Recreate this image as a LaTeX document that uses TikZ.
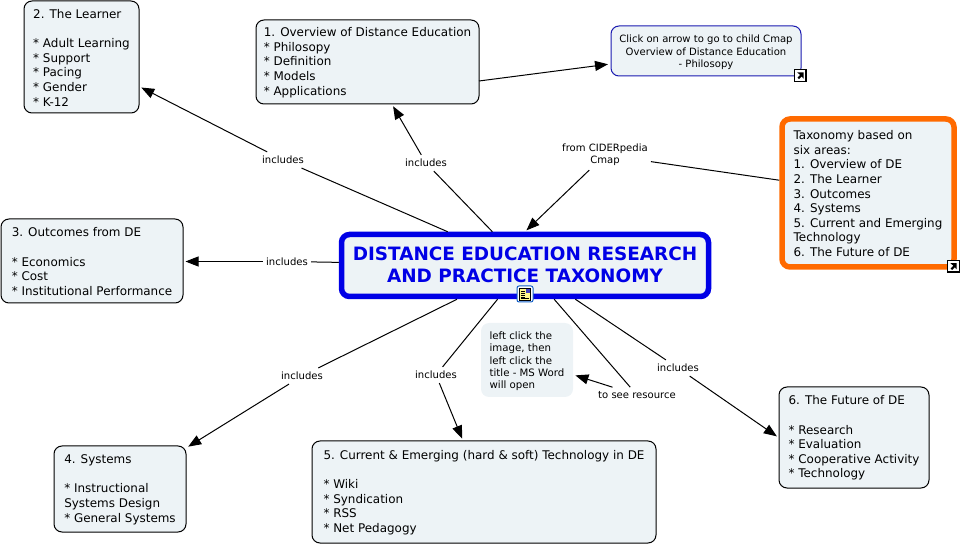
\documentclass[tikz,border=0pt]{standalone}
\usepackage{fontspec}
\setmainfont{DejaVu Sans}
\usetikzlibrary{arrows.meta,calc}
\definecolor{boxfill}{HTML}{EDF3F6}
\definecolor{rootblue}{HTML}{0000E6}
\definecolor{notablue}{HTML}{1A1AB0}
\definecolor{orangeb}{HTML}{FF6A00}
\newcommand{\toprl}{\rule{0pt}{10.2pt}}
\tikzset{
  box/.style={draw=black,line width=1pt,rounded corners=8pt,fill=boxfill,align=left,inner sep=0pt,
    font=\fontsize{11.95}{14.65}\selectfont},
  lbl/.style={align=center,inner xsep=3pt,inner ysep=4pt,font=\fontsize{10.05}{12.2}\selectfont},
  conn/.style={draw=black,line width=1pt},
  arr/.style={conn,-{Triangle[length=13pt,width=10pt]},shorten >=2pt},
  jump/.style={draw=black,fill=white,line width=1.2pt,minimum size=11.5pt,inner sep=0pt},
}
\newcommand{\jumpglyph}[1]{\fill[black] ($(#1)+(-3.2,-3.2)$) -- ($(#1)+(3.2,-3.2)$) -- ($(#1)+(3.2,3.2)$) -- ($(#1)+(1.4,1.0)$) -- ($(#1)+(-1.4,3.6)$) -- ($(#1)+(-2.8,2.2)$) -- ($(#1)+(-0.2,-0.6)$) -- cycle;}
\begin{document}
\begin{tikzpicture}[x=1pt,y=-1pt]
\useasboundingbox (0,0) rectangle (962,545);
% concept nodes
\node[box,minimum width=115pt,minimum height=112pt] (learner) at (81.5,57) {\toprl 2. The Learner\\ \\* Adult Learning\\* Support\\* Pacing\\* Gender\\* K-12};
\node[box,minimum width=223pt,minimum height=84pt] (over) at (367.5,62) {\toprl 1. Overview of Distance Education\\* Philosopy\\* Definition\\* Models\\* Applications};
\node[box,draw=notablue,align=center,minimum width=190pt,minimum height=50pt,font=\fontsize{10.05}{12.2}\selectfont] (child) at (706,51) {\toprl Click on arrow to go to child Cmap\\Overview of Distance Education\\- Philosopy};
\node[box,draw=orangeb,line width=5.5pt,minimum width=172pt,minimum height=148pt] (tax) at (868,193) {\toprl Taxonomy based on\\six areas:\\1. Overview of DE\\2. The Learner\\3. Outcomes\\4. Systems\\5. Current and Emerging\\Technology\\6. The Future of DE};
\node[box,draw=rootblue,line width=5.5pt,align=center,text=rootblue,minimum width=367pt,minimum height=62pt,font=\fontsize{18.4}{22}\selectfont\bfseries] (root) at (525,265.5) {DISTANCE EDUCATION RESEARCH\\AND PRACTICE TAXONOMY\rule[-2pt]{0pt}{1pt}};
\node[box,minimum width=182pt,minimum height=84pt] (out) at (92,261) {\toprl 3. Outcomes from DE\\ \\* Economics\\* Cost\\* Institutional Performance};
\node[box,minimum width=132pt,minimum height=86pt] (sys) at (120,489) {\toprl 4. Systems\\ \\* Instructional\\Systems Design\\* General Systems};
\node[box,minimum width=344pt,minimum height=102pt] (cur) at (484,492) {\toprl 5. Current \& Emerging (hard \& soft) Technology in DE\\ \\* Wiki\\* Syndication\\* RSS\\* Net Pedagogy};
\node[box,minimum width=150pt,minimum height=101pt] (fut) at (854,437.5) {\toprl 6. The Future of DE\\ \\* Research\\* Evaluation\\* Cooperative Activity\\* Technology};
\node[box,draw=none,minimum width=92pt,minimum height=74pt,font=\fontsize{10.2}{12.2}\selectfont] (note) at (527,360) {\toprl left click the\\image, then\\left click the\\title - MS Word\\will open};
% linking phrases
\node[lbl] (l2) at (283,160) {includes};
\node[lbl] (l1) at (426,163) {includes};
\node[lbl] (l3) at (287,261.5) {includes};
\node[lbl] (l4) at (302,376) {includes};
\node[lbl] (l5) at (436,375) {includes};
\node[lbl] (l6) at (678,368) {includes};
\node[lbl] (lr) at (637,395) {to see resource};
\node[lbl] (lc) at (605,155) {from CIDERpedia\\Cmap};
% connectors
\draw[conn] (root) -- (l2);
\draw[arr] (l2) -- (learner);
\draw[conn] (root) -- (l1);
\draw[arr] (l1) -- (over);
\draw[conn] (root) -- (l3);
\draw[arr] (l3) -- (l3 -| out.east);
\draw[conn] (root) -- (l4);
\draw[arr] (l4) -- (sys);
\draw[conn] (root) -- (l5);
\draw[arr] (l5) -- (cur);
\draw[conn] (root) -- (l6);
\draw[arr] (l6) -- (fut.west);
\draw[conn] (root) -- (lr);
\draw[arr] (lr) -- (note);
\draw[conn] (tax) -- (lc);
\draw[arr] (lc) -- (root.north);
\coordinate (ovout) at (479,81);
\coordinate (chin) at (610,64);
\draw[arr] (ovout) -- (chin);
% resource icons
\node[jump] (jc) at (800.3,75.5) {};
\jumpglyph{jc}
\node[jump] (jt) at (953.5,266.3) {};
\jumpglyph{jt}
\node[draw=notablue!70!cyan,fill=white,line width=1pt,rounded corners=2pt,minimum width=16pt,minimum height=16pt,inner sep=0pt] (doc) at (525,294) {};
\fill[yellow!45,draw=black,line width=.7pt] ($(doc)+(-5.5,-6)$) rectangle ($(doc)+(5.5,6)$);
\foreach \yy in {-3,-1,1,3}{\draw[black,line width=.6pt] ($(doc)+(-4,\yy)$) -- ($(doc)+(0,\yy)$);}
\draw[black,line width=.6pt] ($(doc)+(-4,4.6)$) -- ($(doc)+(4,4.6)$);
\fill[blue!50!gray] ($(doc)+(0.5,-5)$) rectangle ($(doc)+(5,-0.5)$);
\end{tikzpicture}
\end{document}
